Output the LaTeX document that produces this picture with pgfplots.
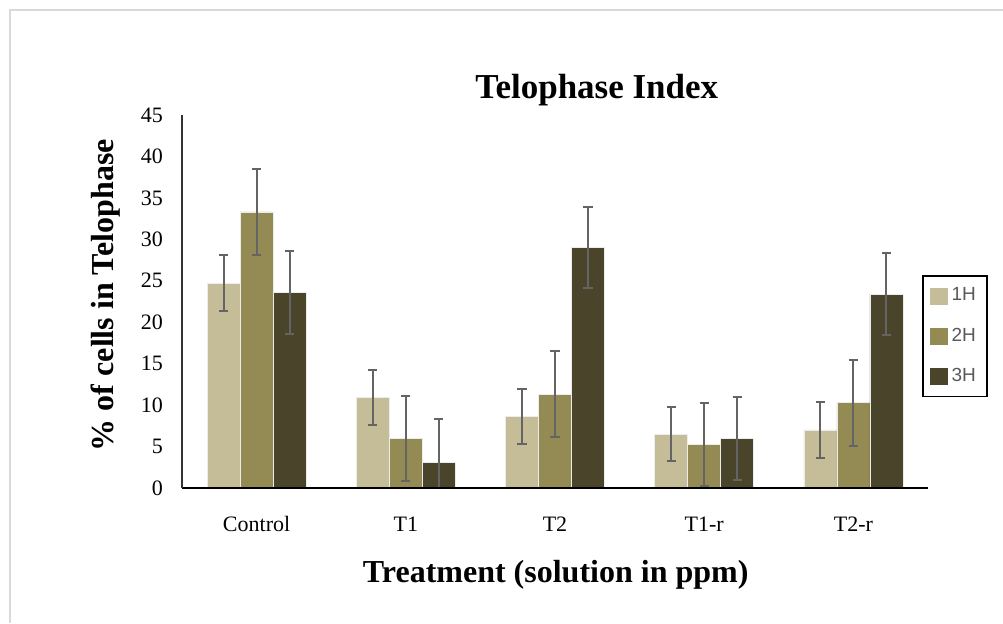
\documentclass[border=0pt]{standalone}
\usepackage{pgfplots}
\pgfplotsset{compat=1.18}
\usepackage{fontspec}
\setmainfont{Liberation Serif}
\newfontfamily\arialfont{Liberation Sans}
\definecolor{c1}{HTML}{C4BD97}
\definecolor{c2}{HTML}{948A54}
\definecolor{c3}{HTML}{4A452A}
\definecolor{errc}{HTML}{646464}
\definecolor{framec}{HTML}{D9D9D9}
\definecolor{legtext}{HTML}{595959}
\begin{document}
\begin{tikzpicture}
\useasboundingbox (0,0) rectangle (501.5pt,311.5pt);
\draw[framec, line width=0.7pt] (5pt,0) -- (5pt,306.5pt) -- (501.5pt,306.5pt);
\begin{axis}[
  at={(91pt,67.5pt)}, anchor=south west,
  scale only axis, width=373pt, height=186.5pt,
  xmin=-0.5, xmax=4.5, ymin=0, ymax=45,
  ybar=0pt, bar width=16.5pt,
  axis on top,
  axis x line*=bottom, axis y line*=left,
  x axis line style={line width=1pt, black},
  y axis line style={line width=0.6pt, black!80},
  major tick length=0pt,
  xtick={0,1,2,3,4},
  xticklabels={Control,T1,T2,T1-r,T2-r},
  ytick={0,5,...,45},
  /pgf/number format/assume math mode=true,
  tick label style={font=\fontsize{11}{13}\selectfont},
  xticklabel style={anchor=base, yshift=-21.5pt},
  yticklabel style={anchor=east, xshift=-6pt},
  title={Telophase Index},
  title style={at={(axis description cs:0.556,1.034)}, anchor=center, font=\bfseries\fontsize{17.5}{20}\selectfont},
  xlabel={Treatment (solution in ppm)},
  xlabel style={at={(axis description cs:0.501,-0.233)}, anchor=center, font=\bfseries\fontsize{16}{19}\selectfont},
  ylabel={\% of cells in Telophase},
  ylabel style={at={(axis description cs:-0.103,0.517)}, anchor=center, font=\bfseries\fontsize{16}{19}\selectfont},
  legend style={at={(axis description cs:0.992,0.571)}, anchor=north west,
    draw=black, line width=0.9pt, font=\arialfont\fontsize{9.5}{11}\selectfont\color{legtext},
    inner xsep=3.5pt, inner ysep=4pt, row sep=8pt, cells={anchor=west}},
  every axis plot/.append style={
    draw=white!85!gray, line width=0.3pt,
    error bars/y dir=both, error bars/y explicit,
    error bars/error bar style={errc, line width=1pt},
    error bars/error mark options={errc, rotate=90, mark size=2.3pt, line width=1pt}},
]
\addplot[fill=c1, legend image code/.code={\fill[c1] (0pt,-4pt) rectangle (8.5pt,4pt);}]
  coordinates {(0,24.7) +- (0,3.4) (1,10.9) +- (0,3.3) (2,8.6) +- (0,3.3) (3,6.5) +- (0,3.3) (4,7.0) +- (0,3.35)};
\addplot[fill=c2, legend image code/.code={\fill[c2] (0pt,-4pt) rectangle (8.5pt,4pt);}]
  coordinates {(0,33.3) +- (0,5.2) (1,6.0) +- (0,5.1) (2,11.3) +- (0,5.2) (3,5.3) +- (0,5.0) (4,10.3) +- (0,5.2)};
\addplot[fill=c3, legend image code/.code={\fill[c3] (0pt,-4pt) rectangle (8.5pt,4pt);}]
  coordinates {(0,23.6) +- (0,5.0) (1,3.1) +- (0,5.2) (2,29.0) +- (0,4.9) (3,6.0) +- (0,5.0) (4,23.4) +- (0,5.0)};
\legend{1H,2H,3H}
\end{axis}
\end{tikzpicture}
\end{document}
